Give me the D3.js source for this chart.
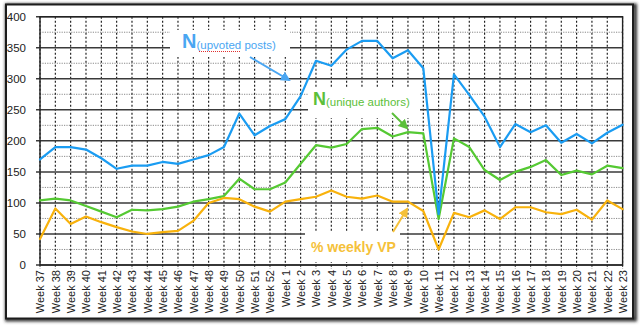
<!DOCTYPE html>
<html>
<head>
<meta charset="utf-8">
<script src="https://cdn.jsdelivr.net/npm/d3@7"></script>
<style>
  html, body { margin: 0; padding: 0; background: #fff; }
  svg { display: block; font-family: "Liberation Sans", Arial, Helvetica, sans-serif; }
</style>
</head>
<body>
<svg id="chart" width="640" height="325"></svg>
<script>
// Week labels along the x axis
const weeks = ["Week 37","Week 38","Week 39","Week 40","Week 41","Week 42","Week 43","Week 44",
  "Week 45","Week 46","Week 47","Week 48","Week 49","Week 50","Week 51","Week 52",
  "Week 1","Week 2","Week 3","Week 4","Week 5","Week 6","Week 7","Week 8","Week 9","Week 10",
  "Week 11","Week 12","Week 13","Week 14","Week 15","Week 16","Week 17","Week 18","Week 19",
  "Week 20","Week 21","Week 22","Week 23"];

// N(upvoted posts)
const upvotedPosts = [170,190,190,186,172,155,160,160,166,163,170,177,190,244,209,224,
  235,272,329,321,347,361,361,333,346,317,82,307,274,239,190,227,214,225,197,211,196,213,226];

// N(unique authors)
const uniqueAuthors = [104,107,104,95,86,77,89,88,90,94,102,106,111,139,122,122,
  133,163,193,189,195,219,221,207,214,212,74,204,190,153,137,150,158,169,145,152,146,160,156];

// % weekly VP
const weeklyVP = [42,91,66,78,69,61,54,50,53,55,71,100,108,106,94,86,
  102,106,110,120,110,107,112,102,102,87,25,84,77,88,74,93,93,85,82,89,73,104,90];

const yTicks = [0,50,100,150,200,250,300,350,400];
const yMinor = [25,75,125,175,225,275,325,375];

const svg = d3.select("#chart");
const W = 640, H = 325;
const m = {left: 40, right: 17.4, top: 16.7, bottom: 60};
const x = d3.scalePoint().domain(weeks).range([m.left, W - m.right]).padding(0);
const y = d3.scaleLinear().domain([0, 400]).range([265, m.top]);

// Frame with soft shadow
const defs = svg.append("defs");
const f = defs.append("filter").attr("id", "shadow").attr("x", "-5%").attr("y", "-5%")
  .attr("width", "110%").attr("height", "110%");
f.append("feGaussianBlur").attr("stdDeviation", 1.6);
svg.append("rect").attr("x", 7).attr("y", 5.5).attr("width", 628).attr("height", 314)
  .attr("fill", "none").attr("stroke", "#333").attr("stroke-width", 4).attr("filter", "url(#shadow)");
svg.append("rect").attr("x", 6).attr("y", 4.5).attr("width", 627).attr("height", 314)
  .attr("fill", "#fff").attr("stroke", "#1c1c1c").attr("stroke-width", 2);

const plot = svg.append("g");

// Minor horizontal gridlines (dotted grey)
plot.selectAll(".minor").data(yMinor).join("line")
  .attr("x1", m.left).attr("x2", W - m.right)
  .attr("y1", d => y(d)).attr("y2", d => y(d))
  .attr("stroke", "#8a8a8a").attr("stroke-width", 1).attr("stroke-dasharray", "1.2,1.2");

// Vertical gridlines (dotted black)
plot.selectAll(".vgrid").data(weeks).join("line")
  .attr("x1", d => x(d)).attr("x2", d => x(d))
  .attr("y1", y(400)).attr("y2", y(0) + 4)
  .attr("stroke", "#111").attr("stroke-width", 1.1).attr("stroke-dasharray", "2,2");

// Major horizontal gridlines
plot.selectAll(".major").data(yTicks).join("line")
  .attr("x1", m.left - 4).attr("x2", W - m.right)
  .attr("y1", d => y(d)).attr("y2", d => y(d))
  .attr("stroke", "#3a3a3a").attr("stroke-width", 1.5);

// Plot border
plot.append("rect").attr("x", m.left).attr("y", y(400))
  .attr("width", W - m.right - m.left).attr("height", y(0) - y(400))
  .attr("fill", "none").attr("stroke", "#222").attr("stroke-width", 1.4);

// Y axis labels
const yAxis = d3.axisLeft(y).tickValues(yTicks).tickSize(0).tickPadding(14);
const gy = svg.append("g").attr("transform", `translate(${m.left},0)`).call(yAxis);
gy.select(".domain").remove();
gy.selectAll("text").attr("font-size", 11.5).attr("fill", "#222")
  .attr("font-family", "\"Liberation Sans\", Arial, sans-serif");

// X axis labels (rotated)
const xAxis = d3.axisBottom(x).tickSize(0).tickPadding(0);
const gx = svg.append("g").attr("transform", `translate(0,${y(0)})`).call(xAxis);
gx.select(".domain").remove();
gx.selectAll("text")
  .attr("font-size", 11).attr("fill", "#222")
  .attr("font-family", "\"Liberation Sans\", Arial, sans-serif")
  .attr("transform", "rotate(-90)")
  .attr("text-anchor", "end")
  .attr("x", -5).attr("y", 0).attr("dy", "0.35em");

// Series lines
const series = [
  {values: uniqueAuthors, color: "#55c933"},
  {values: weeklyVP, color: "#f8b20c"},
  {values: upvotedPosts, color: "#1a9cf2"}
];
const line = d3.line().x((d, i) => x(weeks[i])).y(d => y(d));
svg.selectAll(".series").data(series).join("path")
  .attr("d", d => line(d.values))
  .attr("fill", "none").attr("stroke", d => d.color)
  .attr("stroke-width", 2.2).attr("stroke-linejoin", "round").attr("stroke-linecap", "round");

// Annotation boxes
const boxes = [
  {x: 170, y: 30, w: 120, h: 27},
  {x: 308, y: 88, w: 112, h: 30},
  {x: 305, y: 232, w: 95, h: 30}
];
svg.selectAll(".lblbox").data(boxes).join("rect")
  .attr("x", d => d.x).attr("y", d => d.y).attr("width", d => d.w).attr("height", d => d.h)
  .attr("fill", "#fff");

// Arrow markers
function marker(id, color) {
  defs.append("marker").attr("id", id).attr("viewBox", "0 0 10 10")
    .attr("refX", 8).attr("refY", 5).attr("markerWidth", 5).attr("markerHeight", 5)
    .attr("orient", "auto")
    .append("path").attr("d", "M0,0 L10,5 L0,10 Z").attr("fill", color);
}
marker("arBlue", "#4aa6f2");
marker("arGreen", "#5cbf3a");
marker("arYellow", "#f5c13a");

const arrows = [
  {x1: 250, y1: 57, x2: 289, y2: 80, c: "#4aa6f2", m: "arBlue"},
  {x1: 392, y1: 113, x2: 407, y2: 128, c: "#5cbf3a", m: "arGreen"},
  {x1: 393, y1: 232, x2: 407, y2: 209, c: "#f5c13a", m: "arYellow"}
];
svg.selectAll(".arrow").data(arrows).join("line")
  .attr("x1", d => d.x1).attr("y1", d => d.y1).attr("x2", d => d.x2).attr("y2", d => d.y2)
  .attr("stroke", d => d.c).attr("stroke-width", 2).attr("marker-end", d => `url(#${d.m})`);

// Labels
const lab1 = svg.append("text").attr("x", 182).attr("y", 48).attr("fill", "#4aa6f2")
  .attr("font-family", "\"Liberation Sans\", Arial, sans-serif");
lab1.append("tspan").attr("font-size", 20).attr("font-weight", "bold").text("N");
lab1.append("tspan").attr("font-size", 11.5).attr("dy", 1).text("(upvoted posts)");
// spell-check squiggle under "upvoted"
svg.append("line").attr("x1", 199).attr("x2", 241).attr("y1", 51.5).attr("y2", 51.5)
  .attr("stroke", "#e03030").attr("stroke-width", 1).attr("stroke-dasharray", "1,1");

const lab2 = svg.append("text").attr("x", 313).attr("y", 105).attr("fill", "#5cbf3a")
  .attr("font-family", "\"Liberation Sans\", Arial, sans-serif");
lab2.append("tspan").attr("font-size", 18).attr("font-weight", "bold").text("N");
lab2.append("tspan").attr("font-size", 11.5).attr("dy", 1).text("(unique authors)");

svg.append("text").attr("x", 311).attr("y", 252).attr("fill", "#f5c13a")
  .attr("font-family", "\"Liberation Sans\", Arial, sans-serif")
  .attr("font-size", 14).attr("font-weight", "bold").text("% weekly VP");
</script>
</body>
</html>
